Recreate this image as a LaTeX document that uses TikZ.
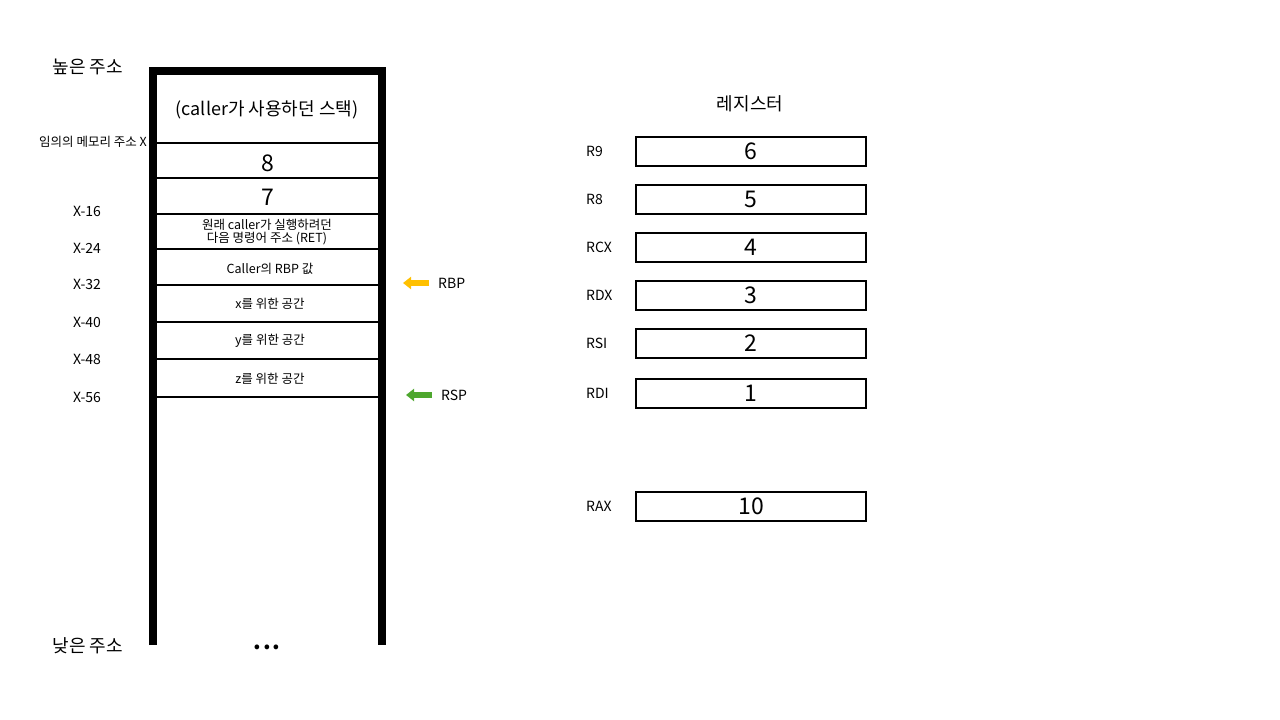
\documentclass[tikz,border=0pt]{standalone}
\usepackage{fontspec}
\setmainfont{Noto Sans CJK KR}
\usetikzlibrary{arrows.meta}
\definecolor{rbpcol}{RGB}{255,192,0}
\definecolor{rspcol}{RGB}{78,167,46}
\begin{document}
\begin{tikzpicture}[x=1pt,y=-1pt,
  lbl/.style={font=\fontsize{14}{16}\selectfont, inner sep=0pt},
  cell/.style={font=\fontsize{12.5}{14}\selectfont, inner sep=0pt, align=center},
  big/.style={font=\fontsize{23}{25}\selectfont, inner sep=0pt},
  title/.style={font=\fontsize{18}{21}\selectfont, inner sep=0pt},
  reg/.style={draw, line width=2pt, minimum width=230pt, minimum height=29pt, inner sep=0pt, font=\fontsize{23}{25}\selectfont},
  sep/.style={line width=1.5pt},
  ptr/.style={line width=5.5pt, -{Triangle[length=8pt,width=12pt]}}]
\useasboundingbox (0,0) rectangle (1280,720);
% stack frame
\coordinate (tl) at (153,71);
\coordinate (tr) at (382,71);
\coordinate (bl) at (153,645);
\coordinate (br) at (382,645);
\draw[line width=8pt] (bl) -- (tl) -- (tr) -- (br);
% separators
\foreach \y/\n in {143/a,178/b,214/c,249/d,285/e,322/f,359/g,397/h} {
  \coordinate (L\n) at (153,\y);
  \coordinate (R\n) at (382,\y);
  \draw[sep] (L\n) -- (R\n);
}
% stack contents
\node[title] (caller) at (267,110) {(caller가 사용하던 스택)};
\node[big] (v8) at (268,163) {8};
\node[big] (v7) at (268,197) {7};
\node[cell] (ret) at (267,232) {원래 caller가 실행하려던\\[-1pt]다음 명령어 주소 (RET)};
\node[cell] (rbpv) at (270,269) {Caller의 RBP 값};
\node[cell] (xs) at (270,304) {x를 위한 공간};
\node[cell] (ys) at (270,341) {y를 위한 공간};
\node[cell] (zs) at (270,379) {z를 위한 공간};
\node[font=\fontsize{22}{24}\selectfont\bfseries, inner sep=0pt] (dots) at (267,647) {.\hspace{2pt}.\hspace{2pt}.};
% left labels
\node[title] (high) at (88,67) {높은 주소};
\node[title] (low) at (88,646) {낮은 주소};
\node[cell, anchor=east] (addrX) at (147,142) {임의의 메모리 주소 X};
\node[lbl] (x16) at (87,211) {X-16};
\node[lbl] (x24) at (87,248) {X-24};
\node[lbl] (x32) at (87,284) {X-32};
\node[lbl] (x40) at (87,322) {X-40};
\node[lbl] (x48) at (87,359) {X-48};
\node[lbl] (x56) at (87,397) {X-56};
% pointers
\node[lbl, anchor=west] (rbp) at (438,283) {RBP};
\node[lbl, anchor=west] (rsp) at (441,395) {RSP};
\coordinate (rbpS) at (429,283);
\coordinate (rbpE) at (403,283);
\coordinate (rspS) at (432,395);
\coordinate (rspE) at (406,395);
\draw[ptr, rbpcol] (rbpS) -- (rbpE);
\draw[ptr, rspcol] (rspS) -- (rspE);
% registers
\node[title] (regs) at (750,104) {레지스터};
\foreach \y/\n/\v in {151/R9/6,199/R8/5,247/RCX/4,295/RDX/3,343/RSI/2,393/RDI/1,506/RAX/10} {
  \node[reg] (box\n) at (751,\y) {\v};
  \node[lbl, anchor=west] (lab\n) at (586,\y) {\n};
}
\end{tikzpicture}
\end{document}
